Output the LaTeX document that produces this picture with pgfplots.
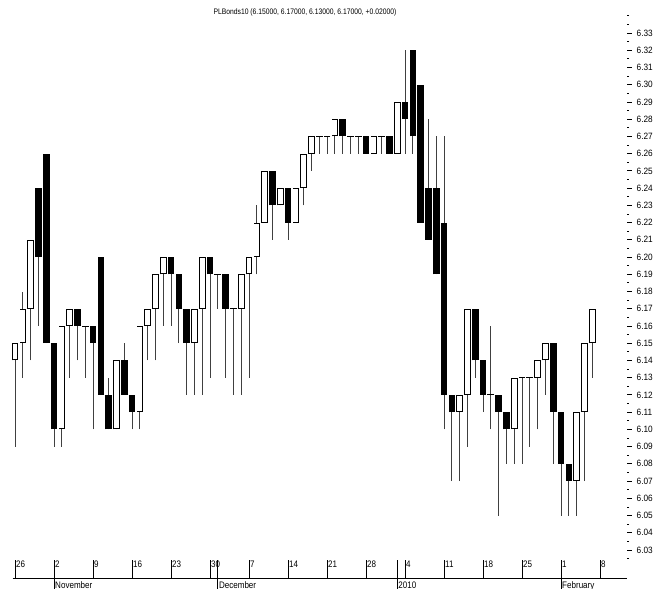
\documentclass[border=0pt]{standalone}
\usepackage{fontspec}
\setmainfont{Liberation Sans}
\newfontfamily\narrowfont[FakeStretch=0.85]{Liberation Sans}
\newfontfamily\ticknarrow[FakeStretch=0.9]{Liberation Sans}
\usepackage{pgfplots}
\pgfplotsset{compat=1.18}
\usepackage{pgfplotstable}

\pgfplotstableread{
x o h l c
0 6.14 6.15 6.09 6.15
1 6.15 6.18 6.13 6.17
2 6.17 6.21 6.14 6.21
3 6.24 6.24 6.16 6.20
4 6.26 6.26 6.15 6.15
5 6.15 6.15 6.09 6.10
6 6.10 6.16 6.09 6.16
7 6.16 6.17 6.13 6.17
8 6.17 6.17 6.14 6.16
9 6.16 6.16 6.13 6.16
10 6.16 6.16 6.10 6.15
11 6.20 6.20 6.12 6.12
12 6.12 6.13 6.10 6.10
13 6.10 6.14 6.10 6.14
14 6.14 6.15 6.12 6.12
15 6.12 6.12 6.10 6.11
16 6.11 6.16 6.10 6.16
17 6.16 6.17 6.14 6.17
18 6.17 6.19 6.14 6.19
19 6.19 6.20 6.16 6.20
20 6.20 6.20 6.16 6.19
21 6.19 6.19 6.15 6.17
22 6.17 6.17 6.12 6.15
23 6.15 6.17 6.12 6.17
24 6.17 6.20 6.12 6.20
25 6.20 6.20 6.13 6.19
26 6.19 6.19 6.17 6.19
27 6.19 6.19 6.13 6.17
28 6.17 6.17 6.12 6.17
29 6.17 6.19 6.12 6.19
30 6.19 6.20 6.13 6.20
31 6.20 6.23 6.19 6.22
32 6.22 6.25 6.22 6.25
33 6.25 6.25 6.21 6.23
34 6.23 6.24 6.23 6.24
35 6.24 6.24 6.21 6.22
36 6.22 6.24 6.22 6.24
37 6.24 6.26 6.23 6.26
38 6.26 6.27 6.25 6.27
39 6.27 6.27 6.26 6.27
40 6.27 6.27 6.26 6.27
41 6.27 6.28 6.26 6.28
42 6.28 6.28 6.26 6.27
43 6.27 6.27 6.26 6.27
44 6.27 6.27 6.26 6.27
45 6.27 6.27 6.26 6.26
46 6.26 6.27 6.26 6.27
47 6.27 6.27 6.26 6.27
48 6.27 6.27 6.26 6.26
49 6.26 6.29 6.26 6.29
50 6.29 6.32 6.26 6.28
51 6.32 6.32 6.26 6.27
52 6.30 6.30 6.22 6.22
53 6.24 6.28 6.21 6.21
54 6.24 6.27 6.19 6.19
55 6.22 6.27 6.10 6.12
56 6.12 6.12 6.07 6.11
57 6.11 6.12 6.07 6.12
58 6.12 6.17 6.09 6.17
59 6.17 6.17 6.13 6.14
60 6.14 6.14 6.11 6.12
61 6.12 6.16 6.10 6.12
62 6.12 6.12 6.05 6.11
63 6.11 6.11 6.08 6.10
64 6.10 6.13 6.08 6.13
65 6.13 6.13 6.08 6.13
66 6.13 6.13 6.09 6.13
67 6.13 6.14 6.10 6.14
68 6.14 6.15 6.12 6.15
69 6.15 6.15 6.08 6.11
70 6.11 6.11 6.05 6.08
71 6.08 6.08 6.05 6.07
72 6.07 6.11 6.05 6.11
73 6.11 6.15 6.07 6.15
74 6.15 6.17 6.13 6.17
}\candles

\begin{document}
\begin{tikzpicture}
\begin{axis}[
  at={(12.7bp,30.4bp)}, anchor=south west,
  scale only axis, width=614.3bp, height=542.8bp,
  xmin=-0.3, xmax=78.46, ymin=6.025, ymax=6.34,
  axis x line=none,
  axis y line*=right,
  y axis line style={draw=none},
  ytick={6.03,6.04,6.05,6.06,6.07,6.08,6.09,6.10,6.11,6.12,6.13,6.14,6.15,6.16,6.17,6.18,6.19,6.20,6.21,6.22,6.23,6.24,6.25,6.26,6.27,6.28,6.29,6.30,6.31,6.32,6.33},
  minor ytick={6.025,6.035,6.045,6.055,6.065,6.075,6.085,6.095,6.105,6.115,6.125,6.135,6.145,6.155,6.165,6.175,6.185,6.195,6.205,6.215,6.225,6.235,6.245,6.255,6.265,6.275,6.285,6.295,6.305,6.315,6.325,6.335},
  extra y ticks={6.34}, extra y tick labels={},
  extra y tick style={major tick length=2bp},
  tick align=outside,
  major tick length=4.5bp, minor tick length=2bp,
  tick style={black, line width=0.8bp},
  yticklabel shift=5bp,
  yticklabel style={font=\ticknarrow\fontsize{9.2}{10}\selectfont, anchor=west, inner sep=0pt,
    /pgf/number format/.cd, fixed, fixed zerofill, precision=2, assume math mode=true},
  clip=false,
]
% wicks
\addplot[draw=none, mark=none, error bars/.cd, y dir=plus, y explicit, error mark=none,
  error bar style={draw=black!75, line width=0.7bp}]
  table[x=x, y=l, y error expr=\thisrow{h}-\thisrow{l}] {\candles};
% bodies (black)
\addplot[draw=none, mark=none, error bars/.cd, y dir=plus, y explicit, error mark=none,
  error bar style={draw=black, line width=6.6bp}]
  table[x=x, y expr={min(\thisrow{o},\thisrow{c})}, y error expr={abs(\thisrow{c}-\thisrow{o})}] {\candles};
% white interiors of rising candles
\addplot[draw=none, mark=none, error bars/.cd, y dir=plus, y explicit, error mark=none,
  error bar style={draw=white, line width=4.8bp}]
  table[x=x, y expr={\thisrow{c}>\thisrow{o}+0.001 ? \thisrow{o}+0.0006 : nan}, y error expr={\thisrow{c}-\thisrow{o}-0.0012}] {\candles};
% doji dashes
\addplot[only marks, mark=-, mark size=3.4bp, mark options={draw=black, line width=0.9bp}]
  table[x=x, y expr={abs(\thisrow{c}-\thisrow{o})<0.001 ? \thisrow{o} : nan}] {\candles};
\end{axis}

\begin{axis}[
  at={(12.7bp,11bp)}, anchor=south west,
  scale only axis, width=614.3bp, height=20bp,
  xmin=-0.3, xmax=78.46, ymin=0, ymax=1,
  axis x line*=bottom, hide y axis,
  axis line style={black, line width=0.8bp},
  xtick={0,5,10,15,20,25,30,35,40,45,50,55,60,65,70,75},
  xticklabels={26,2,9,16,23,30,7,14,21,28,4,11,18,25,1,8},
  minor xtick={26,49},
  tick align=inside,
  major tick length=18bp, minor tick length=18bp,
  tick style={black, line width=0.8bp},
  xticklabel style={font=\narrowfont\fontsize{9.5}{10}\selectfont, anchor=base west, inner sep=1bp, yshift=11bp},
  extra x ticks={5,26,49,70},
  extra x tick labels={November,December,2010,February},
  extra x tick style={tick align=outside, major tick length=11bp,
    xticklabel style={anchor=base west, yshift=-10.5bp}},
  clip=false,
]
\addplot[draw=none, mark=none] coordinates {(0,0.5)};
\end{axis}

\node[font=\narrowfont\fontsize{8}{9}\selectfont] at (305bp,577bp) {PLBonds10 (6.15000, 6.17000, 6.13000, 6.17000, +0.02000)};
\pgfresetboundingbox
\path[use as bounding box] (0,0) rectangle (668bp,589bp);
\end{tikzpicture}
\end{document}
